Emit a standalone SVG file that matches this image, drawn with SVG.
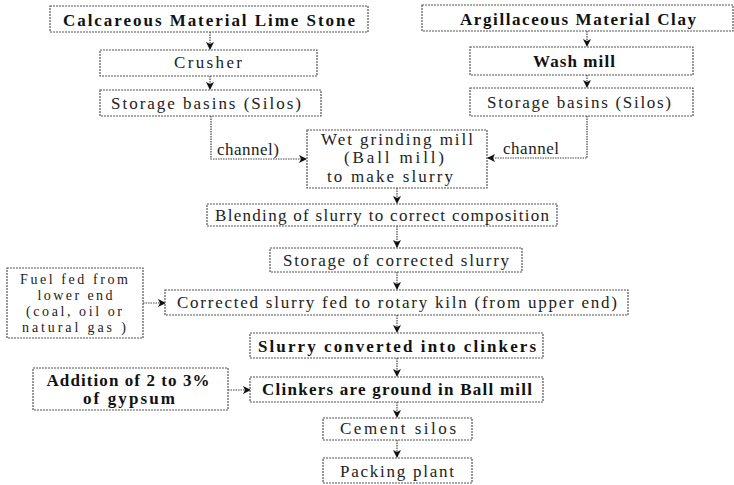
<svg xmlns="http://www.w3.org/2000/svg" width="734" height="485" viewBox="0 0 734 485">
<defs>
<marker id="ah" markerWidth="8" markerHeight="8" refX="7" refY="4" orient="auto" markerUnits="userSpaceOnUse">
<path d="M0,0 L8,4 L0,8 L2,4 Z" fill="#111"/>
</marker>
</defs>
<style>
.box{fill:#fff;stroke:#555;stroke-width:1.2;stroke-dasharray:2 1}
.t{font-family:"Liberation Serif","Times New Roman",serif;font-size:17px;fill:#222;text-anchor:middle}
.s{font-size:14px}
.b{font-weight:bold;fill:#111}
.c{fill:none;stroke:#444;stroke-width:1.2;stroke-dasharray:1.5 1}
</style>
<rect width="734" height="485" fill="#fff"/>
<g id="connectors">
<path class="c" d="M210,32 V49" marker-end="url(#ah)"/>
<path class="c" d="M210,76 V89" marker-end="url(#ah)"/>
<path class="c" d="M587,31 V46" marker-end="url(#ah)"/>
<path class="c" d="M587,75 V87" marker-end="url(#ah)"/>
<path class="c" d="M211,116 V159 H306" marker-end="url(#ah)"/>
<path class="c" d="M587,116 V158 H488" marker-end="url(#ah)"/>
<path class="c" d="M397,188 V203" marker-end="url(#ah)"/>
<path class="c" d="M397,226 V247" marker-end="url(#ah)"/>
<path class="c" d="M397,272 V289" marker-end="url(#ah)"/>
<path class="c" d="M143,303 H165" marker-end="url(#ah)"/>
<path class="c" d="M397,315 V332" marker-end="url(#ah)"/>
<path class="c" d="M397,358 V376" marker-end="url(#ah)"/>
<path class="c" d="M228,390 H250" marker-end="url(#ah)"/>
<path class="c" d="M397,402 V417" marker-end="url(#ah)"/>
<path class="c" d="M397,440 V457" marker-end="url(#ah)"/>
</g>
<g id="n_calc"><rect class="box" x="50" y="6" width="318" height="26"/><text class="t b" x="209" y="26" textLength="292" lengthAdjust="spacing">Calcareous Material Lime Stone</text></g>
<g id="n_crusher"><rect class="box" x="100" y="50" width="217" height="26"/><text class="t" x="208" y="68" textLength="68" lengthAdjust="spacing">Crusher</text></g>
<g id="n_stor1"><rect class="box" x="100" y="90" width="221" height="26"/><text class="t" x="206" y="109" textLength="190" lengthAdjust="spacing">Storage basins (Silos)</text></g>
<g id="n_arg"><rect class="box" x="422" y="5" width="311" height="26"/><text class="t b" x="578" y="25" textLength="236" lengthAdjust="spacing">Argillaceous Material Clay</text></g>
<g id="n_wash"><rect class="box" x="470" y="47" width="223" height="28"/><text class="t b" x="574" y="67" textLength="82" lengthAdjust="spacing">Wash mill</text></g>
<g id="n_stor2"><rect class="box" x="470" y="88" width="223" height="28"/><text class="t" x="579" y="108" textLength="184" lengthAdjust="spacing">Storage basins (Silos)</text></g>
<g id="n_ch1"><text class="t" x="248" y="155" textLength="62" lengthAdjust="spacing">channel)</text></g>
<g id="n_ch2"><text class="t" x="531" y="154" textLength="56" lengthAdjust="spacing">channel</text></g>
<g id="n_wet"><rect class="box" x="307" y="130" width="180" height="58"/>
<text class="t" x="397" y="145" textLength="152" lengthAdjust="spacing">Wet grinding mill</text>
<text class="t" x="394" y="163" textLength="100" lengthAdjust="spacing">(Ball mill)</text>
<text class="t" x="390" y="182" textLength="126" lengthAdjust="spacing">to make slurry</text></g>
<g id="n_blend"><rect class="box" x="207" y="204" width="350" height="22"/><text class="t" x="382" y="221" textLength="334" lengthAdjust="spacing">Blending of slurry to correct composition</text></g>
<g id="n_storcor"><rect class="box" x="270" y="248" width="252" height="24"/><text class="t" x="396" y="266" textLength="226" lengthAdjust="spacing">Storage of corrected slurry</text></g>
<g id="n_fuel"><rect class="box" x="7" y="268" width="136" height="70"/>
<text class="t s" x="74" y="284" textLength="108" lengthAdjust="spacing">Fuel fed from</text>
<text class="t s" x="75" y="300" textLength="75" lengthAdjust="spacing">lower end</text>
<text class="t s" x="74" y="316" textLength="96" lengthAdjust="spacing">(coal, oil or</text>
<text class="t s" x="74" y="332" textLength="104" lengthAdjust="spacing">natural gas )</text></g>
<g id="n_kiln"><rect class="box" x="165" y="290" width="463" height="25"/><text class="t" x="397" y="308" textLength="440" lengthAdjust="spacing">Corrected slurry fed to rotary kiln (from upper end)</text></g>
<g id="n_clink"><rect class="box" x="250" y="333" width="293" height="25"/><text class="t b" x="397" y="352" textLength="278" lengthAdjust="spacing">Slurry converted into clinkers</text></g>
<g id="n_add"><rect class="box" x="33" y="368" width="195" height="42"/>
<text class="t b" x="128" y="386" textLength="163" lengthAdjust="spacing">Addition of 2 to 3%</text>
<text class="t b" x="129" y="404" textLength="92" lengthAdjust="spacing">of gypsum</text></g>
<g id="n_ground"><rect class="box" x="250" y="377" width="293" height="25"/><text class="t b" x="397" y="395" textLength="270" lengthAdjust="spacing">Clinkers are ground in Ball mill</text></g>
<g id="n_cement"><rect class="box" x="323" y="418" width="149" height="22"/><text class="t" x="398" y="434" textLength="116" lengthAdjust="spacing">Cement silos</text></g>
<g id="n_pack"><rect class="box" x="323" y="458" width="149" height="25"/><text class="t" x="397" y="477" textLength="114" lengthAdjust="spacing">Packing plant</text></g>
</svg>
